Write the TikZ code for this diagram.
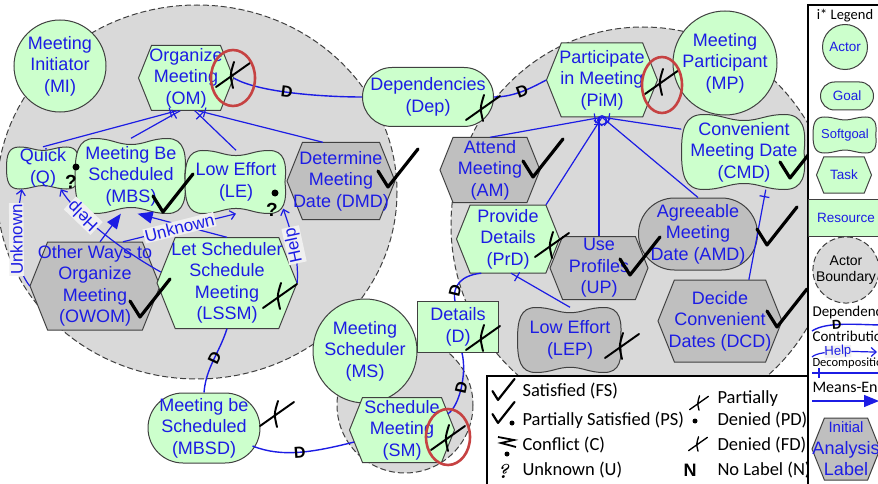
\documentclass[tikz,border=0pt]{standalone}
\usepackage{fontspec}
\newfontfamily\arialf{Liberation Sans}
\newfontfamily\calibf{Carlito}
\usetikzlibrary{arrows.meta,%
		calc,%
		decorations.markings,%
		positioning}

\definecolor{goalgreen}{RGB}{204,255,204}
\definecolor{initgray}{RGB}{191,191,191}
\definecolor{bndgray}{RGB}{217,217,217}
\definecolor{istarblue}{RGB}{28,28,228}
\definecolor{ringred}{RGB}{198,66,66}
\definecolor{shapeedge}{RGB}{64,64,64}

\newcommand{\nodefont}{\arialf\fontsize{18}{21.5}\selectfont}
\newcommand{\legfont}[1]{\calibf\fontsize{#1}{#1}\selectfont}

\tikzset{
lbl/.style={font=\nodefont,text=istarblue,align=center,inner sep=0pt},
shapeline/.style={draw=shapeedge,line width=1pt},
actor/.style={lbl,shapeline,circle,fill=goalgreen},
goal/.style={lbl,shapeline,rectangle,fill=goalgreen},
bound/.style={draw=shapeedge,dash pattern=on 6pt off 3pt,line width=1pt,fill=bndgray},
deplink/.style={draw=istarblue,line width=1.4pt},
dlabel/.style={font=\arialf\bfseries\fontsize{16}{16}\selectfont,text=black,inner sep=0pt,sloped},
link/.style={draw=istarblue,line width=1.2pt},
decomp/.style={link,postaction={decorate},decoration={markings,
   mark=at position -7pt with {\draw[istarblue,line width=1.2pt] (0pt,-5pt) -- (0pt,5pt);}}},
meansend/.style={link,-{Triangle[length=15pt,width=12pt]}},
contrib/.style={link,-{Straight Barb[length=5pt,width=9pt]}},
clabel/.style={font=\arialf\fontsize{17}{17}\selectfont,text=istarblue,fill=black!6,
   inner sep=1pt,sloped,allow upside down},
ring/.style={draw=ringred,line width=2.6pt},
evalmark/.style={draw=black,line cap=round,line join=round},
bigmark/.style={line width=3.2pt},
smallmark/.style={scale=.55,line width=2.2pt},
satisfied/.pic={\draw[evalmark] (-20,2) -- (-10,18) -- (20,-20);},
denied/.pic={\draw[evalmark,line width=0.78*\pgflinewidth] (-17,12) -- (17,-12)
   (1,-13) .. controls (-3,0) .. (0,13);},
}

% softgoal: name, centre, width, height, fill, text
\newcommand{\softgoal}[6]{%
\begin{scope}[shift={(#2)},xscale=#3/2,yscale=#4/2]
\draw[shapeline,fill=#5] (-1,0) .. controls (-1,-0.6) and (-0.95,-1) .. (-0.65,-1)
  .. controls (-0.35,-1) and (-0.25,-0.84) .. (0,-0.84)
  .. controls (0.25,-0.84) and (0.35,-1) .. (0.65,-1)
  .. controls (0.95,-1) and (1,-0.6) .. (0.96,0)
  .. controls (1,0.6) and (0.95,1) .. (0.65,1)
  .. controls (0.35,1) and (0.25,0.84) .. (0,0.84)
  .. controls (-0.25,0.84) and (-0.35,1) .. (-0.65,1)
  .. controls (-0.95,1) and (-1,0.6) .. (-1,0) -- cycle;
\end{scope}
\node[lbl,minimum width=#3pt,minimum height=#4pt] (#1) at (#2) {#6};}

% task: name, centre, width, height, fill, text
\newcommand{\taskshape}[6]{%
\pgfmathsetmacro{\tskw}{#3/2}\pgfmathsetmacro{\tskh}{#4/2}\pgfmathsetmacro{\tskp}{#3/2-0.2*#4}%
\draw[shapeline,fill=#5,shift={(#2)}] (-\tskw,0) -- (-\tskp,-\tskh) -- (\tskp,-\tskh)
  -- (\tskw,0) -- (\tskp,\tskh) -- (-\tskp,\tskh) -- cycle;
\node[lbl,minimum width=#3pt,minimum height=#4pt] (#1) at (#2) {#6};}

\begin{document}
\begin{tikzpicture}[x=1pt,y=-1pt]
\useasboundingbox (0,0) rectangle (878,484);
%actor boundaries
\path[bound] (197,192) ellipse (200 and 187);
\path[bound] (643,225) ellipse (192 and 198);
\path[bound] (405,405) circle (68);

%actors
\node[actor,minimum size=92pt] (MI) at (60,66) {Meeting\\Initiator\\(MI)};
\node[actor,minimum size=104pt] (MP) at (725,63) {Meeting\\Participant\\(MP)};
\node[actor,minimum size=104pt] (MS) at (365,351) {Meeting\\Scheduler\\(MS)};

%elements
\taskshape{OM}{186,78}{95}{65}{goalgreen}{Organize\\Meeting\\(OM)}
\node[goal,minimum width=131pt,minimum height=59pt,rounded corners=29.5pt] (Dep) at (428,97) {Dependencies\\(Dep)};
\taskshape{PiM}{602,80}{111}{74}{goalgreen}{Participate\\in Meeting\\(PiM)}
\softgoal{CMD}{744,152}{125}{75}{goalgreen}{Convenient\\Meeting Date\\(CMD)}
\taskshape{DMD}{341,181}{108}{77}{initgray}{Determine\\Meeting\\Date (DMD)}
\taskshape{AM}{490,170}{100}{65}{initgray}{Attend\\Meeting\\(AM)}
\softgoal{Q}{43,168}{73}{42}{goalgreen}{Quick\\(Q)}
\softgoal{MBS}{131,176}{112}{75}{goalgreen}{Meeting Be\\Scheduled\\(MBS)}
\softgoal{LE}{236,182}{102}{63}{goalgreen}{Low Effort\\(LE)}
\taskshape{OWOM}{95,286}{130}{88}{initgray}{Other Ways to\\Organize\\Meeting\\(OWOM)}
\taskshape{LSSM}{227,283}{140}{91}{goalgreen}{Let Scheduler\\Schedule\\Meeting\\(LSSM)}
\node[goal,minimum width=112pt,minimum height=70pt,rounded corners=35pt] (MBSD) at (204,428) {Meeting be\\Scheduled\\(MBSD)};
\taskshape{SM}{402,430}{105}{65}{goalgreen}{Schedule\\Meeting\\(SM)}
\node[goal,rounded corners=0pt,minimum width=81pt,minimum height=51pt] (D) at (458,327) {Details\\(D)};
\taskshape{PrD}{508,239}{103}{68}{goalgreen}{Provide\\Details\\(PrD)}
\node[goal,fill=initgray,minimum width=119pt,minimum height=72pt,rounded corners=36pt] (AMD) at (698,234) {Agreeable\\Meeting\\Date (AMD)};
\taskshape{UP}{599,268}{98}{63}{initgray}{Use\\Profiles\\(UP)}
\taskshape{DCD}{720,321}{124}{82}{initgray}{Decide\\Convenient\\Dates (DCD)}
\softgoal{LEP}{570,340}{105}{65}{initgray}{Low Effort\\(LEP)}

%dependencies
\draw[deplink] (OM.east) .. controls +(25,15) and +(-35,0) .. (Dep.west) node[dlabel,pos=.45] {D};
\draw[deplink] (Dep.east) .. controls +(20,0) and +(-15,8) .. (PiM.west) node[dlabel,pos=.5] {D};
\draw[deplink] (LSSM.south) .. controls +(-8,25) and +(2,-25) .. (MBSD.north) node[dlabel,pos=.45] {D};
\draw[deplink] ($(MBSD.east)+(-8,18)$) .. controls +(30,12) and +(-40,10) .. ($(SM.west)+(5,12)$) node[dlabel,pos=.5] {D};
\draw[deplink] ($(SM.east)+(-7,-16)$) .. controls +(12,-8) and +(5,20) .. ($(D.south)+(4,0)$) node[dlabel,pos=.5] {D};
\draw[deplink] ($(D.north)+(-3,0)$) .. controls +(-3,-15) and +(-20,2) .. ($(PrD.south west)+(25,0)$) node[dlabel,pos=.25] {D};

%decompositions
\draw[decomp] (Q.north) -- (OM.-105);
\draw[decomp] (MBS.north) -- (OM.-100);
\draw[decomp] (LE.north) -- (OM.-75);
\draw[decomp] (DMD.115) -- (OM.-70);
\draw[decomp] (AM.north) -- (PiM.south);
\draw[decomp] (PrD.42) -- (PiM.south);
\draw[decomp] (UP.north) -- (UP.north |- PiM.south);
\draw[decomp] (AMD.north) -- (PiM.south);
\draw[decomp] (CMD.160) -- (PiM.south);
\node[circle,draw=istarblue,line width=1.2pt,minimum size=9pt,inner sep=0pt] (PiMo) at ($(PiM.south)+(0,3)$) {};
\draw[decomp] (DCD.55) -- (CMD.-60);
\draw[decomp] (LEP.north) -- (PrD.-85);

%means-ends and contributions
\draw[meansend] ($(OWOM.north)+(5,0)$) -- (MBS.-105);
\draw[meansend] (LSSM.north) -- (MBS.-80);
\draw[contrib] ($(OWOM.north)+(28,0)$) -- (LE.south) node[clabel,pos=.5] {Unknown};
\draw[contrib] ($(LSSM.west)+(4,-11)$) .. controls +(-40,-22) and +(15,25) .. (Q.-50) node[clabel,pos=.68] {Help};
\draw[contrib] (LSSM.east) .. controls +(2,-30) and +(6,18) .. ($(LE.south east)+(-4,-5)$) node[clabel,pos=.45] {Help};
\draw[contrib] (OWOM.west) .. controls +(-20,-25) and +(-5,30) .. (Q.-135) node[clabel,pos=.5] {Unknown};

%evaluation labels
\pic[bigmark] at (173,194) {satisfied};
\pic[bigmark] at (398,169) {satisfied};
\pic[bigmark] at (543,159) {satisfied};
\pic[bigmark] at (800,160) {satisfied};
\pic[bigmark] at (640,257) {satisfied};
\pic[bigmark] at (777,227) {satisfied};
\pic[bigmark] at (787,309) {satisfied};
\pic[bigmark] at (150,299) {satisfied};
\pic[bigmark] at (233,75) {denied};
\pic[bigmark] at (483,108) {denied};
\pic[bigmark] at (662,82) {denied};
\pic[bigmark] at (448,438) {denied};
\pic[bigmark] at (280,296) {denied};
\pic[bigmark] at (277,414) {denied};
\pic[bigmark] at (483,338) {denied};
\pic[bigmark] at (552,245) {denied};
\pic[bigmark] at (622,346) {denied};
\fill (76,167) circle (3.5);
\node[font=\arialf\bfseries\fontsize{19}{19}\selectfont] (Qc) at (71,182) {?};
\fill (275,193) circle (3.5);
\node[font=\arialf\bfseries\fontsize{19}{19}\selectfont] (LEc) at (272,210) {?};
\draw[ring] (233,78) ellipse (22 and 28);
\draw[ring] (662,85) ellipse (20 and 28);
\draw[ring] (448,437) ellipse (22 and 28);

%legend
\draw[black,line width=1.3pt,fill=white] (487,376) rectangle (900,500);
\draw[black,line width=1.3pt,fill=white] (808,5) rectangle (900,500);
\pic[smallmark] at (503.5,390) {satisfied};
\pic[smallmark] at (503.5,413) {satisfied};
\fill (512,423) circle (2.5);
\draw[black,line width=1.8pt] (498,437) -- (514,440) -- (501,443) -- (516,447);
\fill (507,454) circle (2.5);
\node[font=\itshape\bfseries\fontsize{20}{20}\selectfont] (lgQ) at (503,471) {?};
\pic[smallmark] at (699,403) {denied};
\fill (695,421) circle (2.5);
\pic[smallmark] at (698,444) {denied};
\node[font=\arialf\bfseries\fontsize{18}{18}\selectfont] (lgN) at (690,470) {N};
\node[anchor=west,font=\legfont{18.5}] (lgFS) at (519,391) {Satisfied (FS)};
\node[anchor=west,font=\legfont{18.5}] (lgPS) at (519,420) {Partially Satisfied (PS)};
\node[anchor=west,font=\legfont{18.5}] (lgC) at (519,445) {Conflict (C)};
\node[anchor=west,font=\legfont{18.5}] (lgU) at (519,470) {Unknown (U)};
\node[anchor=west,align=left,font=\calibf\fontsize{18.5}{22}\selectfont] (lgPD) at (714,409) {Partially\\Denied (PD)};
\node[anchor=west,font=\legfont{18.5}] (lgFD) at (714,445) {Denied (FD)};
\node[anchor=west,font=\legfont{18.5}] (lgNL) at (714,470) {No Label (N)};

\node[font=\legfont{14.5}] (lgTitle) at (845,16) {i* Legend};
\node[actor,minimum size=45pt,font=\arialf\fontsize{13.5}{14}\selectfont] (lgActor) at (845,47) {Actor};
\node[goal,minimum width=53pt,minimum height=28pt,rounded corners=14pt,font=\arialf\fontsize{13.5}{14}\selectfont] (lgGoal) at (847,96) {Goal};
\softgoal{lgSoft}{845,135}{64}{36}{goalgreen}{\fontsize{13}{14}\selectfont Softgoal}
\taskshape{lgTask}{844,175}{55}{36}{goalgreen}{\fontsize{13.5}{14}\selectfont Task}
\node[goal,rounded corners=0pt,minimum width=76pt,minimum height=37pt,font=\arialf\fontsize{13.5}{14}\selectfont] (lgRes) at (846,218) {Resource};
\node[bound,circle,minimum size=63pt,inner sep=0pt,align=center,font=\arialf\fontsize{14}{16}\selectfont] (lgBound) at (846,270) {Actor\\Boundary};
\node[anchor=west,font=\legfont{15}] (lgDepT) at (809,312) {Dependency};
\coordinate (lgDa) at (812,331);
\coordinate (lgDb) at (884,325);
\draw[deplink] (lgDa) .. controls +(15,-10) and +(-25,0) .. (lgDb) node[dlabel,pos=.4,font=\arialf\bfseries\fontsize{13}{13}\selectfont] {D};
\node[anchor=west,font=\legfont{15}] (lgConT) at (809,336) {Contribution};
\coordinate (lgHa) at (812,357);
\coordinate (lgHb) at (877,352);
\draw[contrib] (lgHa) .. controls +(8,-8) and +(-15,0) .. (lgHb) node[clabel,pos=.45,inner sep=0pt,font=\arialf\fontsize{13}{13}\selectfont] {Help};
\node[anchor=west,font=\legfont{12.5}] (lgDecT) at (809,363) {Decomposition};
\coordinate (lgKa) at (812,373);
\coordinate (lgKb) at (884,373);
\draw[decomp] (lgKb) -- (lgKa);
\node[anchor=west,font=\legfont{16}] (lgMeT) at (809,387) {Means-End};
\coordinate (lgMa) at (812,401);
\coordinate (lgMb) at (879,401);
\draw[meansend] (lgMa) -- (lgMb);
\taskshape{lgInit}{846,449}{68}{62}{initgray}{\fontsize{15}{22}\selectfont Initial\\Analysis\\Label}
\end{tikzpicture}
\end{document}
